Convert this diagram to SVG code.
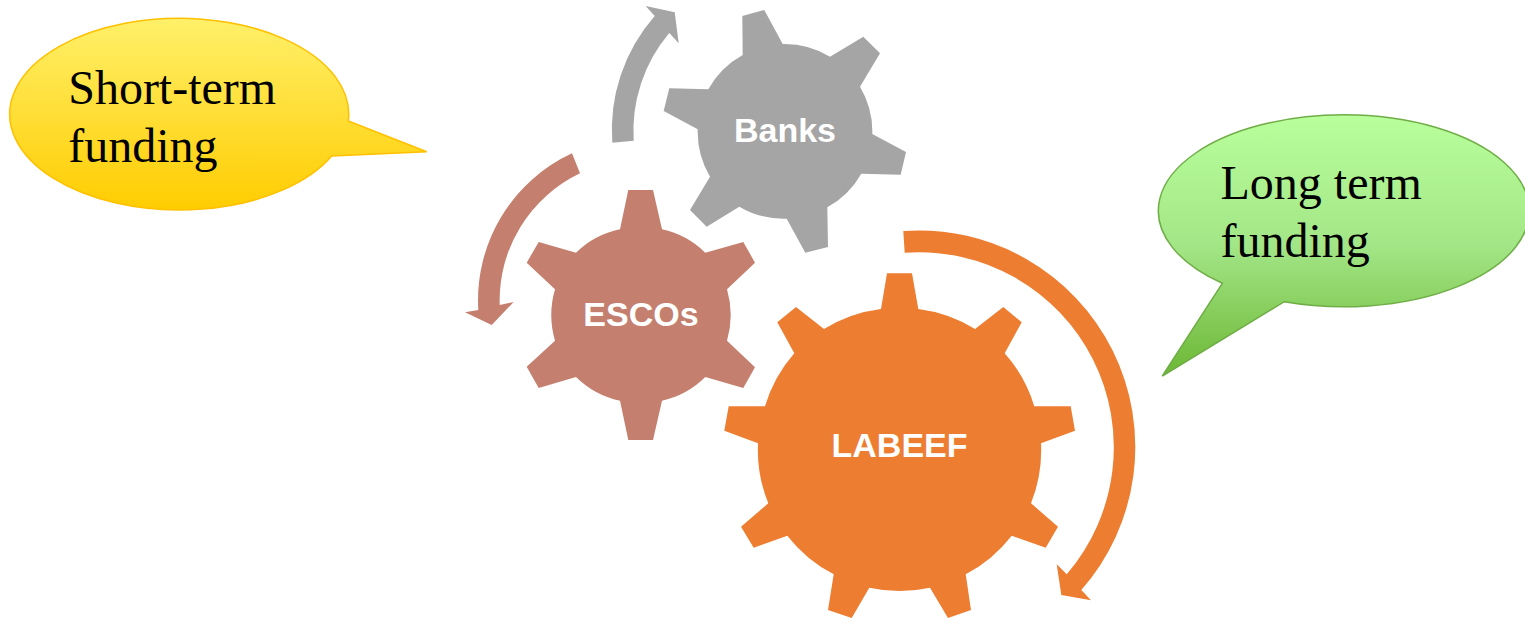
<svg xmlns="http://www.w3.org/2000/svg" width="1525" height="618" viewBox="0 0 1525 618">
<style>
.grey{fill:#A5A5A5}.brown{fill:#C47F6E}.orange{fill:#ED7D31}
.gl{font-family:"Liberation Sans",Arial,sans-serif;font-weight:700;font-size:34px;fill:#fff;text-anchor:middle}
.bt{font-family:"Liberation Serif","Times New Roman",serif;font-size:48px;fill:#000}
</style>
<defs>
<linearGradient id="yg" gradientUnits="userSpaceOnUse" x1="0" y1="19" x2="0" y2="211"><stop offset="0" stop-color="#FFF06A"/><stop offset="1" stop-color="#FFCC00"/></linearGradient>
<linearGradient id="gg" gradientUnits="userSpaceOnUse" x1="0" y1="114" x2="0" y2="376"><stop offset="0" stop-color="#B9FF9C"/><stop offset="0.5" stop-color="#A3E687"/><stop offset="1" stop-color="#6CB735"/></linearGradient>
</defs>
<rect width="1525" height="618" fill="#fff"/>
<g id="connectors">
<path class="grey" d="M612.3,142.7A173,173 0 0 1 654.7,16L645.7,6L674.7,12.3L678.7,43.3L669.3,33A151.5,151.5 0 0 0 633.7,140.7Z"/>
<path class="brown" d="M572,153.3A162,162 0 0 0 478.3,310L465,312.3L491.7,325L513.7,302L499.7,305A141,141 0 0 1 580,173.3Z"/>
<path class="orange" d="M903.3,231A216.5,216.5 0 0 1 1081.3,590L1091,600.3L1061.3,595L1056.7,564.3L1066.7,574.3A195,195 0 0 0 904.7,252.7Z"/>
</g>
<g id="banks">
<path class="grey" d="M742.3,16L764.3,10L782.7,44A87.5,87.5 0 0 1 830,56.7L863.3,36.7L880,53.3L860,86.7A87.5,87.5 0 0 1 872.3,134L906,152L900.7,174.7L861.3,173.7A87.5,87.5 0 0 1 827.3,207.3L828,247L805.3,252.7L786.7,218.7A87.5,87.5 0 0 1 739.3,206.7L706.7,226.7L690,210L710,176.7A87.5,87.5 0 0 1 697.7,129.3L663.7,111L669.3,88.3L708.3,89.3A87.5,87.5 0 0 1 742.7,55Z"/>
<text class="gl" x="785" y="141.7">Banks</text>
</g>
<g id="escos">
<path class="brown" d="M628.3,190L653,190L662,229.3A88.5,88.5 0 0 1 705.3,252.7L743.3,242L755,262.7L727,289.3A92,92 0 0 1 727,340.7L755,367.3L743.3,388L705.3,377A88.5,88.5 0 0 1 662,400.7L653,440L628.3,440L620,400.7A88.5,88.5 0 0 1 576,377L538.7,388L526.7,366.7L555,340.7A92,92 0 0 1 555,289.3L526.7,262.7L538.7,242L576,252.7A88.5,88.5 0 0 1 620,229.3Z"/>
<text class="gl" x="641" y="325.7">ESCOs</text>
</g>
<g id="labeef">
<path class="orange" d="M887,273.3L912,273.3L918.3,309A141.5,141.5 0 0 1 975,329L1003.3,307L1021.7,322.3L1004.7,353.3A141.5,141.5 0 0 1 1034.3,406.3L1070.7,406.3L1075,430.7L1041,443.3A141.5,141.5 0 0 1 1031,503.3L1058,526.7L1045.7,547.7L1011.7,535.7A141.5,141.5 0 0 1 965.7,574.3L971,610L948,618L930,587.7A141.5,141.5 0 0 1 869.3,587.7L851.7,618L828,610L833.7,574.3A141.5,141.5 0 0 1 787.3,535.7L753.7,547.7L741,526.7L768.3,503.3A141.5,141.5 0 0 1 758,443.3L724.3,430.7L728.7,406.3L765,406.3A141.5,141.5 0 0 1 794.3,353.3L777.3,322.3L796,307L824,329A141.5,141.5 0 0 1 881,309Z"/>
<text class="gl" x="899.5" y="456.7">LABEEF</text>
</g>
<g id="short-term">
<path fill="url(#yg)" stroke="#FFC000" stroke-width="1.5" d="M348.3,121L426.7,151.7L331.7,156A169.5,95.8 0 1 1 348.3,121Z"/>
<text class="bt" x="68.2" y="104.3">Short-term</text>
<text class="bt" x="68.2" y="161.7">funding</text>
</g>
<g id="long-term">
<path fill="url(#gg)" stroke="#70AD47" stroke-width="1.5" d="M1222.3,283.3L1162.3,376L1284.3,301.7A185.5,96 0 1 0 1222.3,283.3Z"/>
<text class="bt" x="1220.5" y="199">Long term</text>
<text class="bt" x="1220.5" y="256.7">funding</text>
</g>
</svg>
